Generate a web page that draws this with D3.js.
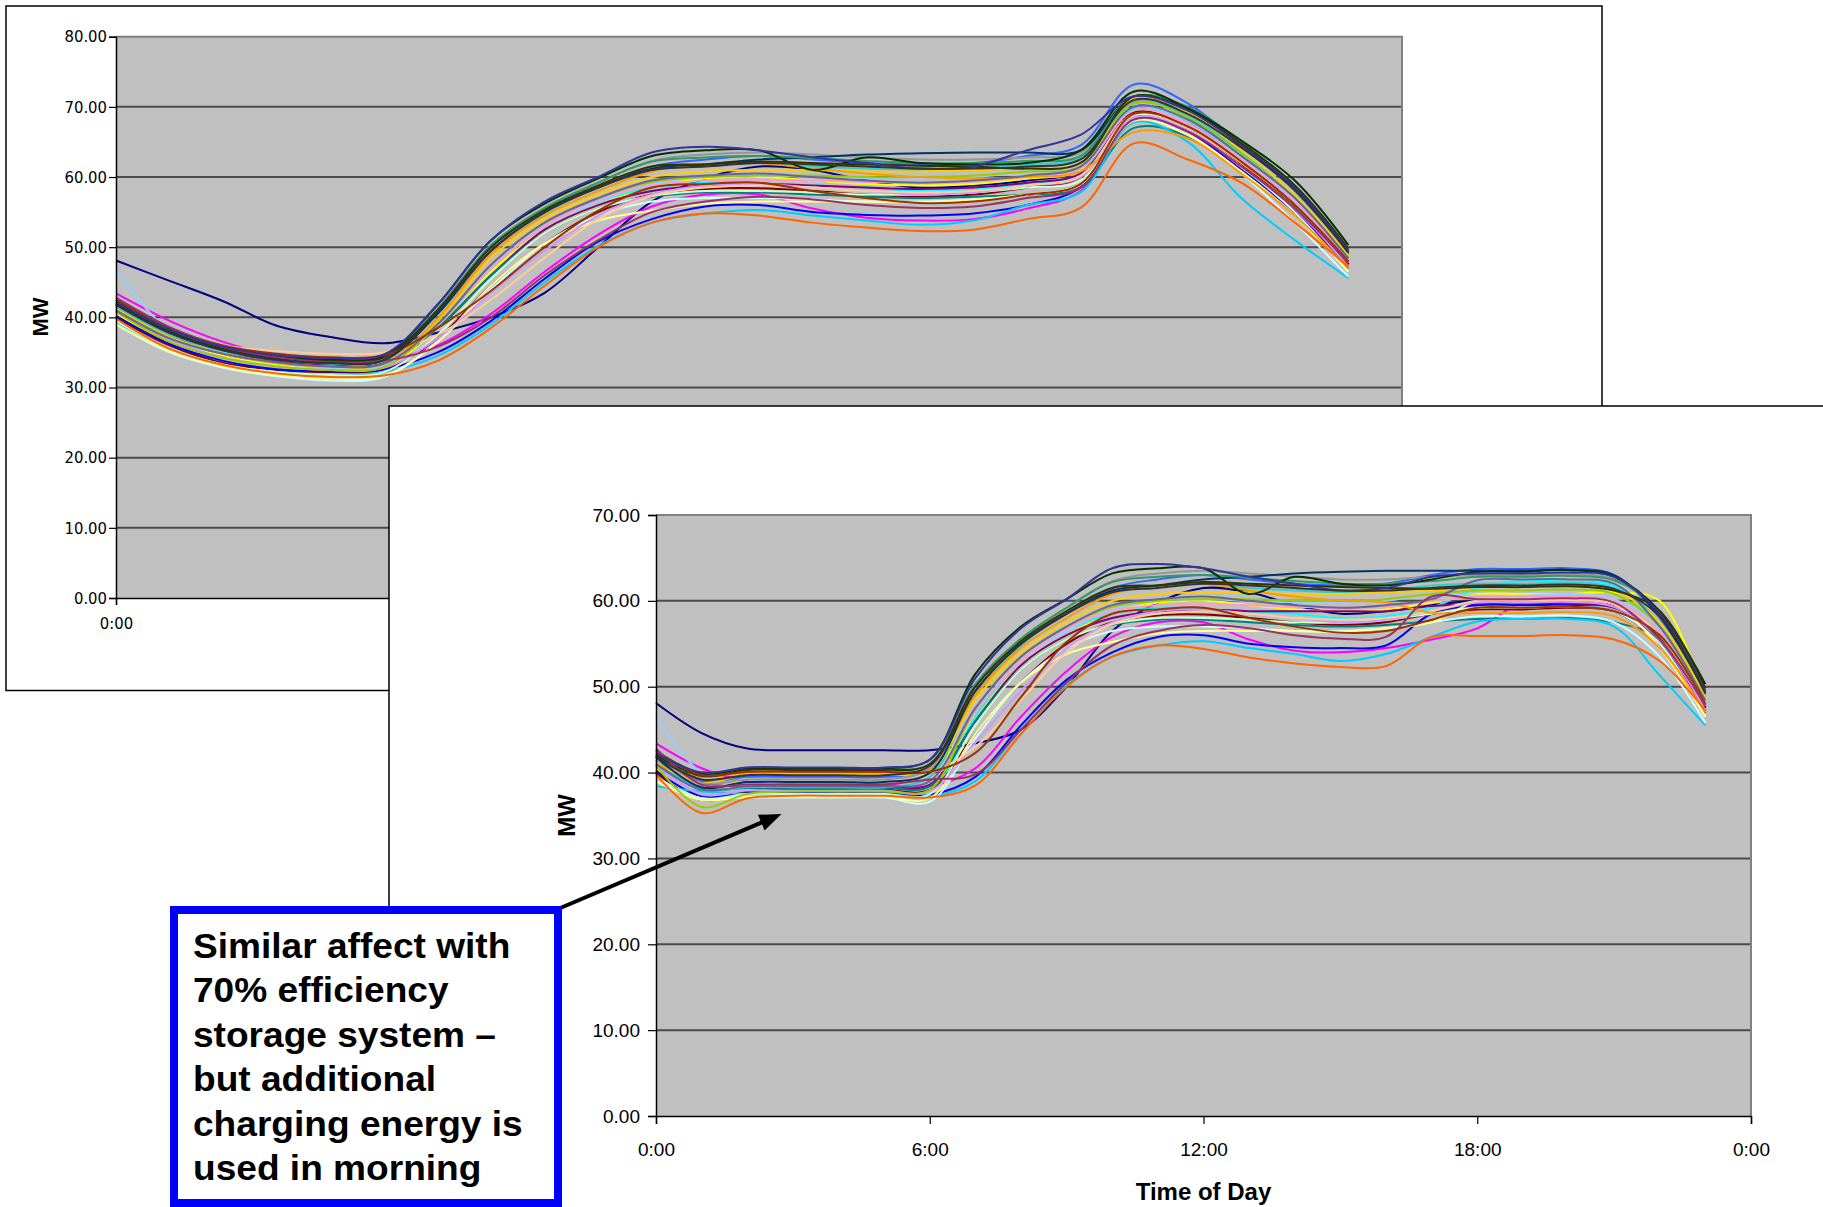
<!DOCTYPE html>
<html><head><meta charset="utf-8">
<script src="https://cdn.jsdelivr.net/npm/d3@7"></script>
<style>html,body{margin:0;padding:0;background:#fff;} svg{display:block;}</style>
</head><body>
<svg id="c" width="1823" height="1207"></svg>
<script>
// ---------- data ----------
const hours = d3.range(0, 24);
const yTicksBefore = [0, 10, 20, 30, 40, 50, 60, 70, 80];
const yTicksAfter = [0, 10, 20, 30, 40, 50, 60, 70];
const timeTicks = [0, 6, 12, 18, 24];
const timeTicksBefore = [0];
const seriesColors = ["#000080","#FF00FF","#FFFF00","#00FFFF","#800080","#800000","#008080","#0000FF",
  "#00CCFF","#CCFFFF","#CCFFCC","#FFFF99","#99CCFF","#FF99CC","#CC99FF","#FFCC99",
  "#3366FF","#33CCCC","#99CC00","#FFCC00","#FF9900","#FF6600","#666699","#969696",
  "#003366","#339966","#003300","#333300","#993300","#993366","#333399","#333333"];

// daily load without storage (MW, hourly 0:00..23:00)
const loadBefore = [
 [48.1,45.2,42.3,38.8,37.2,36.3,37.8,40.0,43.5,50.0,56.5,59.8,61.5,61.0,59.5,58.5,58.8,59.5,61.0,70.0,68.0,62.5,56.0,47.8],
 [43.4,39.5,36.5,34.5,33.8,33.9,36.0,40.5,46.5,51.8,55.8,57.5,57.5,55.5,54.2,53.8,54.0,55.5,58.0,68.5,66.5,61.0,55.0,47.0],
 [40.5,36.5,34.5,33.2,32.5,32.8,38.5,46.5,52.5,56.0,58.5,59.8,60.0,59.5,59.0,58.8,59.0,59.8,61.0,71.0,69.0,63.5,57.5,48.5],
 [41.0,37.0,34.8,33.5,33.0,33.4,39.0,47.0,53.0,56.5,58.5,59.2,59.0,58.8,58.5,58.0,58.2,59.0,60.5,69.8,68.0,62.5,56.5,48.0],
 [41.5,37.5,35.0,33.8,33.2,33.5,38.5,46.0,52.5,56.0,58.0,58.8,59.0,58.8,58.5,58.3,58.5,59.2,60.5,69.0,67.0,62.0,56.0,47.5],
 [40.0,36.0,33.5,32.5,32.2,32.6,37.0,44.5,50.5,55.0,57.5,58.3,58.4,58.0,57.5,57.2,57.5,58.5,60.0,69.2,67.2,61.8,55.8,47.6],
 [41.2,37.2,34.8,33.6,33.0,33.3,38.5,46.0,52.0,55.5,57.2,57.8,57.8,57.5,57.2,57.0,57.2,57.5,58.5,67.0,65.8,61.0,55.5,47.0],
 [40.2,36.2,33.8,32.6,32.3,32.6,35.0,39.5,45.5,50.8,54.0,55.8,56.0,55.0,54.6,54.5,54.8,56.0,58.5,68.3,66.5,61.0,55.0,47.0],
 [39.2,35.5,33.2,32.2,31.8,32.2,34.5,39.0,45.0,50.2,53.5,54.8,55.3,54.5,53.8,53.2,53.8,56.0,57.8,67.8,65.0,57.0,51.0,45.6],
 [39.0,35.0,32.8,31.6,31.0,31.5,36.5,44.0,50.5,54.5,56.5,57.0,57.0,56.8,56.5,56.5,56.8,57.5,59.0,68.2,66.0,60.5,53.5,45.8],
 [39.5,35.5,33.3,32.2,31.8,32.2,37.5,45.5,52.0,55.5,57.3,58.0,58.0,57.8,57.5,57.5,57.8,58.5,59.5,68.8,66.8,61.5,55.0,46.5],
 [39.0,35.2,33.0,31.8,31.3,31.7,36.5,44.5,50.5,53.8,55.2,56.2,56.5,56.5,56.5,56.4,56.8,57.5,59.0,68.0,66.0,60.8,54.5,46.5],
 [46.7,38.0,35.0,33.5,32.8,33.2,38.8,47.0,53.0,56.5,59.0,60.0,60.2,60.0,59.8,59.8,60.0,60.8,61.8,70.0,68.0,62.8,56.8,48.2],
 [42.0,38.0,35.5,34.2,33.6,33.8,39.0,47.0,53.0,56.8,58.8,59.5,59.6,59.5,59.3,59.2,59.4,60.0,61.2,69.5,67.5,62.5,56.5,48.0],
 [40.8,36.8,34.3,33.0,32.5,32.8,37.0,43.5,49.5,54.5,57.5,58.8,59.0,58.5,58.0,57.5,57.8,58.8,60.0,68.5,66.8,61.5,55.5,47.2],
 [41.5,38.0,36.0,35.2,34.8,35.0,37.5,42.5,48.5,54.0,57.3,58.5,58.8,58.5,58.0,57.8,58.0,58.8,60.2,69.0,67.0,62.0,56.0,47.8],
 [41.8,37.8,35.5,34.2,33.7,34.2,40.5,49.5,55.0,58.5,61.5,62.5,63.0,62.5,62.0,61.8,62.0,63.0,64.5,73.2,70.5,64.5,58.0,49.0],
 [41.5,37.5,35.2,34.0,33.4,33.8,40.5,49.5,54.8,58.5,61.0,61.8,62.0,61.5,61.2,61.0,61.2,61.8,62.8,70.5,68.8,63.5,57.5,48.8],
 [40.8,36.5,34.2,33.0,32.5,32.9,39.0,47.5,53.5,57.0,59.3,60.0,60.2,60.2,60.0,60.0,60.2,60.8,61.5,70.5,68.5,63.2,57.0,48.5],
 [41.2,37.2,34.8,33.5,33.0,33.4,39.5,48.5,54.0,57.5,60.0,60.8,61.0,61.0,60.8,60.8,61.0,61.2,62.0,71.2,69.2,63.8,57.5,48.8],
 [41.0,37.0,34.8,33.5,33.0,33.4,39.8,49.0,54.5,58.0,60.8,61.8,62.0,61.2,60.5,60.0,59.8,60.0,60.8,66.4,65.5,60.5,54.5,47.0],
 [39.8,35.5,33.2,32.0,31.5,31.7,33.8,38.5,44.5,50.0,53.5,54.8,54.5,53.5,52.8,52.3,52.5,54.0,55.6,64.8,62.5,59.2,53.5,47.2],
 [41.0,37.0,34.8,33.6,33.0,33.4,39.0,47.5,53.5,57.0,59.5,60.2,60.5,60.0,59.5,59.2,59.5,60.2,61.5,70.0,68.2,63.0,57.0,48.4],
 [42.0,38.0,35.5,34.3,33.8,34.3,41.0,50.0,55.5,59.2,62.3,63.2,63.5,63.2,62.8,62.5,62.5,62.8,63.5,70.8,69.5,64.8,58.5,49.5],
 [41.8,37.8,35.3,34.0,33.5,33.9,40.5,49.5,55.0,58.5,61.2,61.8,62.5,62.8,63.2,63.4,63.5,63.5,63.8,71.5,69.8,64.5,58.2,49.3],
 [42.2,38.2,35.6,34.3,33.7,34.2,41.2,50.3,55.6,59.2,62.2,62.8,63.0,62.7,62.3,62.0,62.0,62.3,63.0,71.5,70.0,65.0,58.8,49.8],
 [42.5,38.5,35.8,34.5,34.0,34.5,41.8,51.0,56.2,59.8,63.0,63.8,63.8,61.0,62.8,62.0,61.8,62.0,63.8,72.2,69.8,65.2,59.5,50.3],
 [42.0,38.0,35.5,34.2,33.8,34.3,41.0,50.0,55.3,58.8,61.5,61.8,62.2,62.0,61.8,61.6,61.5,61.2,62.0,71.5,69.5,64.8,58.8,49.8],
 [42.5,38.5,36.0,34.8,34.3,34.6,38.5,43.8,50.0,55.2,58.5,59.0,59.2,58.0,57.0,56.3,56.5,57.5,59.0,69.0,67.2,62.2,56.0,48.0],
 [42.8,38.6,35.8,34.3,33.6,33.8,35.8,40.0,46.0,51.0,55.0,56.5,57.2,56.8,56.0,55.6,55.8,57.0,58.5,68.2,66.5,61.5,55.5,47.8],
 [42.2,38.3,35.8,34.6,34.2,34.7,41.8,51.0,56.5,60.0,63.5,64.3,63.8,62.8,62.0,61.2,61.5,63.8,66.0,71.5,69.5,64.5,58.5,49.5],
 [41.8,37.8,35.3,34.0,33.5,33.9,40.8,49.5,55.0,58.5,61.0,61.5,62.0,61.8,61.5,61.2,61.2,61.5,62.5,71.0,69.0,64.2,58.2,49.2]
];

// daily load with 70% efficiency storage (MW, hourly 0:00..23:00)
const loadAfter = [
 [48.1,44.6,42.8,42.6,42.6,42.6,42.6,43.4,45.0,50.0,56.5,59.8,61.5,61.0,59.5,58.5,58.8,59.5,60.0,60.0,60.2,59.5,55.5,47.8],
 [43.4,40.5,39.0,38.6,38.6,38.6,38.4,40.5,46.5,51.8,55.8,57.5,57.5,55.5,54.2,54.0,54.5,55.5,56.8,59.8,59.8,59.3,55.0,47.0],
 [40.5,37.0,39.5,39.9,39.9,39.9,40.3,46.5,52.5,56.0,58.5,59.8,60.0,59.5,59.0,58.8,59.0,59.8,60.8,60.8,60.8,61.0,60.0,48.5],
 [41.0,38.0,37.8,37.8,37.8,37.8,37.6,46.5,53.0,56.5,58.5,59.2,59.0,58.8,58.5,58.0,58.2,59.2,61.5,62.3,62.2,61.8,56.5,48.0],
 [41.5,38.8,38.4,38.4,38.4,38.4,38.6,46.0,52.5,56.0,58.0,58.8,59.0,58.8,58.8,58.8,58.8,59.4,59.6,59.6,59.6,59.2,56.0,47.5],
 [40.0,36.8,37.8,38.0,38.0,38.0,38.0,44.5,50.5,55.0,57.5,58.3,58.4,58.0,57.5,57.2,57.5,58.5,59.0,59.0,59.2,58.8,55.8,47.6],
 [41.2,38.2,38.2,38.2,38.2,38.2,38.4,46.0,52.0,55.5,57.2,57.8,57.8,57.5,57.2,57.0,57.2,57.6,57.9,57.9,58.0,57.5,55.5,47.0],
 [40.2,37.2,37.6,37.6,37.6,37.6,37.4,39.5,45.5,50.8,54.0,55.8,56.0,55.0,54.6,54.5,54.8,58.5,59.5,59.5,59.5,58.8,55.0,47.0],
 [38.4,37.8,37.5,37.5,37.5,37.5,37.2,39.0,45.0,50.2,53.5,54.8,55.3,54.5,53.8,53.0,53.8,55.8,57.6,57.9,57.9,57.0,51.3,45.5],
 [39.0,37.0,37.1,37.1,37.1,37.1,36.6,44.0,50.5,54.5,56.5,57.0,57.0,56.8,56.5,56.5,56.8,57.5,58.2,58.2,58.3,57.5,53.5,45.8],
 [39.5,37.0,37.5,37.5,37.5,37.5,37.5,45.5,52.0,55.5,57.3,58.0,58.0,57.8,57.5,57.5,57.8,58.5,59.2,59.2,59.3,58.8,55.0,46.5],
 [39.0,36.8,37.2,37.2,37.2,37.2,37.0,44.5,50.5,53.8,55.2,56.2,56.5,56.5,56.5,56.4,56.8,57.5,60.0,60.2,60.2,59.6,54.5,46.5],
 [46.6,40.0,39.2,38.9,38.9,38.9,39.0,47.0,53.0,56.5,59.0,60.0,60.2,60.0,59.8,59.8,60.0,60.8,60.6,60.6,60.8,60.2,56.8,48.2],
 [42.0,38.6,38.6,38.9,38.9,38.9,39.0,47.0,53.0,56.8,58.8,59.5,59.6,59.5,59.3,59.2,59.4,60.0,60.4,60.4,60.5,60.0,56.5,48.0],
 [40.8,37.5,37.9,37.9,37.9,37.9,37.8,43.5,49.5,54.5,57.5,58.8,59.0,58.5,58.0,57.5,57.8,58.8,59.8,59.8,59.9,59.3,55.5,47.2],
 [41.5,39.8,40.2,40.2,40.2,40.2,40.0,43.0,48.5,54.0,57.3,58.5,58.8,58.5,58.0,57.8,58.0,58.8,60.0,60.0,60.1,59.6,56.0,47.8],
 [41.8,39.0,39.5,39.5,39.5,39.5,40.5,49.5,55.0,58.5,61.5,62.5,63.0,62.5,62.0,61.8,62.0,63.0,63.7,63.7,63.8,63.0,58.0,49.0],
 [41.5,38.0,38.3,38.3,38.3,38.3,39.5,49.0,54.8,58.5,61.0,61.8,62.0,61.5,61.2,61.0,61.2,61.8,62.0,62.0,62.1,61.5,57.5,48.8],
 [40.8,36.0,37.5,37.8,37.8,37.8,38.0,47.5,53.5,57.0,59.3,60.0,60.2,60.2,60.0,60.0,60.2,60.8,61.2,61.2,61.3,60.8,57.0,48.5],
 [41.2,38.8,39.8,39.8,39.8,39.8,40.2,48.5,54.0,57.5,60.0,60.8,61.0,61.0,60.8,60.8,61.0,61.2,61.6,61.6,61.7,61.2,57.5,48.8],
 [41.0,39.5,40.0,40.0,40.0,40.0,40.4,49.0,54.5,58.0,60.8,61.8,62.0,61.2,60.5,60.0,59.8,58.6,58.6,58.6,58.7,58.2,54.5,47.0],
 [39.8,35.3,37.0,37.3,37.3,37.3,37.1,38.5,44.5,50.0,53.5,54.8,54.4,53.4,52.7,52.3,52.4,55.8,55.9,55.9,56.0,55.5,53.0,47.2],
 [41.0,38.0,38.4,38.4,38.4,38.4,39.0,47.5,53.5,57.0,59.5,60.2,60.5,60.0,59.5,59.2,59.5,60.2,62.4,62.5,62.5,62.0,57.0,48.4],
 [42.0,38.8,39.2,39.2,39.2,39.2,40.5,50.0,55.5,59.2,62.3,63.2,63.5,63.2,62.8,62.5,62.5,62.8,63.0,63.0,63.1,62.5,58.5,49.5],
 [41.8,38.3,38.9,38.9,38.9,38.9,40.0,49.5,55.0,58.5,61.2,61.8,62.5,62.8,63.2,63.4,63.5,63.5,63.5,63.5,63.6,63.0,58.2,49.3],
 [42.2,39.8,40.4,40.4,40.4,40.4,41.0,50.3,55.6,59.2,62.2,62.8,63.0,62.7,62.3,62.0,62.0,62.3,62.8,62.8,62.9,62.4,58.8,49.8],
 [42.5,39.9,40.5,40.5,40.5,40.5,41.5,51.5,57.0,60.2,63.2,63.8,63.8,60.8,62.8,62.0,61.8,62.5,63.4,63.4,63.6,62.8,58.8,50.3],
 [42.0,39.6,40.3,40.3,40.3,40.3,41.0,50.0,55.3,58.8,61.5,61.8,62.2,62.0,61.8,61.6,61.5,61.4,61.6,61.6,61.7,61.2,58.8,49.8],
 [42.5,39.7,40.1,40.1,40.1,40.1,40.1,42.3,48.8,55.2,58.5,59.0,59.2,58.0,57.0,56.3,56.5,57.8,59.2,59.2,59.3,58.8,56.0,48.0],
 [42.8,38.6,38.6,38.6,38.6,38.6,39.2,39.8,45.0,50.5,54.8,56.5,57.2,56.8,56.0,55.6,55.8,60.5,60.2,60.2,60.3,59.8,55.5,47.8],
 [42.2,40.0,40.6,40.6,40.6,40.6,41.5,51.0,56.8,60.2,63.8,64.3,63.8,62.8,62.0,61.2,61.5,62.8,63.2,63.2,63.3,62.8,58.5,49.5],
 [41.8,39.2,39.7,39.7,39.7,39.7,40.8,49.5,55.0,58.5,61.0,61.5,62.0,61.8,61.5,61.2,61.2,61.5,61.8,61.8,61.9,61.4,58.2,49.2]
];

const noteLines = ["Similar affect with", "70% efficiency", "storage system \u2013",
  "but additional", "charging energy is", "used in morning"];
const yLabel = "MW";
const xLabel = "Time of Day";

// ---------- drawing ----------
const svg = d3.select("#c");
const fmt = d3.format(".2f");
const timeFmt = h => (h % 24) + ":00";

function drawChart(g, opt) {
  const x = d3.scaleLinear().domain([0, 24]).range([opt.left, opt.right]);
  const y = d3.scaleLinear().domain([0, opt.ymax]).range([opt.bottom, opt.top]);
  g.append("rect").attr("x", opt.left).attr("y", opt.top)
    .attr("width", opt.right - opt.left).attr("height", opt.bottom - opt.top)
    .attr("fill", "#C0C0C0");
  g.append("g").selectAll("line").data(opt.yTicks.filter(v => v > 0 && v < opt.ymax)).join("line")
    .attr("x1", opt.left).attr("x2", opt.right)
    .attr("y1", d => y(d)).attr("y2", d => y(d))
    .attr("stroke", "#4a4a4a").attr("stroke-width", 2);
  g.append("path")
    .attr("d", `M${opt.left},${opt.top}H${opt.right}V${opt.bottom}`)
    .attr("fill", "none").attr("stroke", "#808080").attr("stroke-width", 2);
  const line = d3.line().x((d, i) => x(hours[i])).y(d => y(d)).curve(d3.curveCatmullRom.alpha(0.5));
  g.append("g").selectAll("path").data(opt.data).join("path")
    .attr("d", d => line(d))
    .attr("fill", "none")
    .attr("stroke", (d, i) => seriesColors[i])
    .attr("stroke-width", 2)
    .attr("stroke-linejoin", "round");
  const ya = d3.axisLeft(y).tickValues(opt.yTicks).tickFormat(fmt).tickSize(opt.tick).tickPadding(opt.pad);
  const gy = g.append("g").attr("transform", `translate(${opt.left},0)`).call(ya);
  gy.select(".domain").attr("stroke", "#000").attr("stroke-width", 1.5);
  gy.selectAll(".tick line").attr("stroke", "#000").attr("stroke-width", 1.2);
  gy.selectAll("text").attr("font-family", opt.font).attr("font-size", opt.fs).attr("fill", "#000");
  const xa = d3.axisBottom(x).tickValues(opt.xTicks).tickFormat(timeFmt).tickSize(opt.tick).tickPadding(opt.xpad);
  const gx = g.append("g").attr("transform", `translate(0,${opt.bottom})`).call(xa);
  gx.select(".domain").attr("stroke", "#000").attr("stroke-width", 1.5);
  gx.selectAll(".tick line").attr("stroke", "#000").attr("stroke-width", 1.2);
  gx.selectAll("text").attr("font-family", opt.font).attr("font-size", opt.fs).attr("fill", "#000");
  return {x, y};
}

// ---- back chart (without storage) ----
const back = svg.append("g");
back.append("rect").attr("x", 6).attr("y", 6).attr("width", 1596).attr("height", 684.5)
  .attr("fill", "#fff").attr("stroke", "#000").attr("stroke-width", 1.5);
drawChart(back, {left: 116, right: 1402, top: 36.7, bottom: 598, ymax: 80,
  yTicks: yTicksBefore, xTicks: timeTicksBefore, data: loadBefore, tick: 7, pad: 2, xpad: 12,
  font: "'DejaVu Sans Condensed','Liberation Sans',Arial,sans-serif", fs: 16.5});
back.append("text").attr("transform", "translate(47.5,317) rotate(-90)")
  .attr("text-anchor", "middle").attr("font-family", "'Liberation Sans',Arial,sans-serif")
  .attr("font-weight", "bold").attr("font-size", 22).text(yLabel);

// ---- front chart (with storage) ----
const front = svg.append("g");
front.append("rect").attr("x", 389).attr("y", 406).attr("width", 1500).attr("height", 900)
  .attr("fill", "#fff").attr("stroke", "#000").attr("stroke-width", 1.5);
drawChart(front, {left: 656, right: 1751, top: 515, bottom: 1116, ymax: 70,
  yTicks: yTicksAfter, xTicks: timeTicks, data: loadAfter, tick: 8, pad: 8, xpad: 19,
  font: "'Liberation Sans',Arial,sans-serif", fs: 19});
front.append("text").attr("transform", "translate(575,815.5) rotate(-90)")
  .attr("text-anchor", "middle").attr("font-family", "'Liberation Sans',Arial,sans-serif")
  .attr("font-weight", "bold").attr("font-size", 24).text(yLabel);
front.append("text").attr("x", 1203.5).attr("y", 1200)
  .attr("text-anchor", "middle").attr("font-family", "'Liberation Sans',Arial,sans-serif")
  .attr("font-weight", "bold").attr("font-size", 24).text(xLabel);

// ---- annotation ----
const ann = svg.append("g");
const tail = [558, 909], tip = [781.5, 814];
const dx = tip[0] - tail[0], dy = tip[1] - tail[1], len = Math.hypot(dx, dy);
const ux = dx / len, uy = dy / len, nx = -uy, ny = ux;
const hl = 22, hw = 8.5;
const bx = tip[0] - hl * ux, by = tip[1] - hl * uy;
ann.append("line").attr("x1", tail[0]).attr("y1", tail[1]).attr("x2", bx + ux * 2).attr("y2", by + uy * 2)
  .attr("stroke", "#000").attr("stroke-width", 4);
ann.append("polygon")
  .attr("points", [[tip[0], tip[1]], [bx + hw * nx, by + hw * ny], [bx - hw * nx, by - hw * ny]].map(p => p.join(",")).join(" "))
  .attr("fill", "#000");
ann.append("rect").attr("x", 174).attr("y", 910).attr("width", 384).attr("height", 293)
  .attr("fill", "#fff").attr("stroke", "#0000FF").attr("stroke-width", 8);
const tg = ann.append("g").attr("transform", "translate(193,0) scale(1.06,1)");
tg.selectAll("text").data(noteLines).join("text")
  .attr("x", 0).attr("y", (d, i) => 958 + i * 44.4)
  .attr("font-family", "'Liberation Sans',Arial,sans-serif").attr("font-weight", "bold")
  .attr("font-size", 35).attr("fill", "#000").text(d => d);
</script>
</body></html>
